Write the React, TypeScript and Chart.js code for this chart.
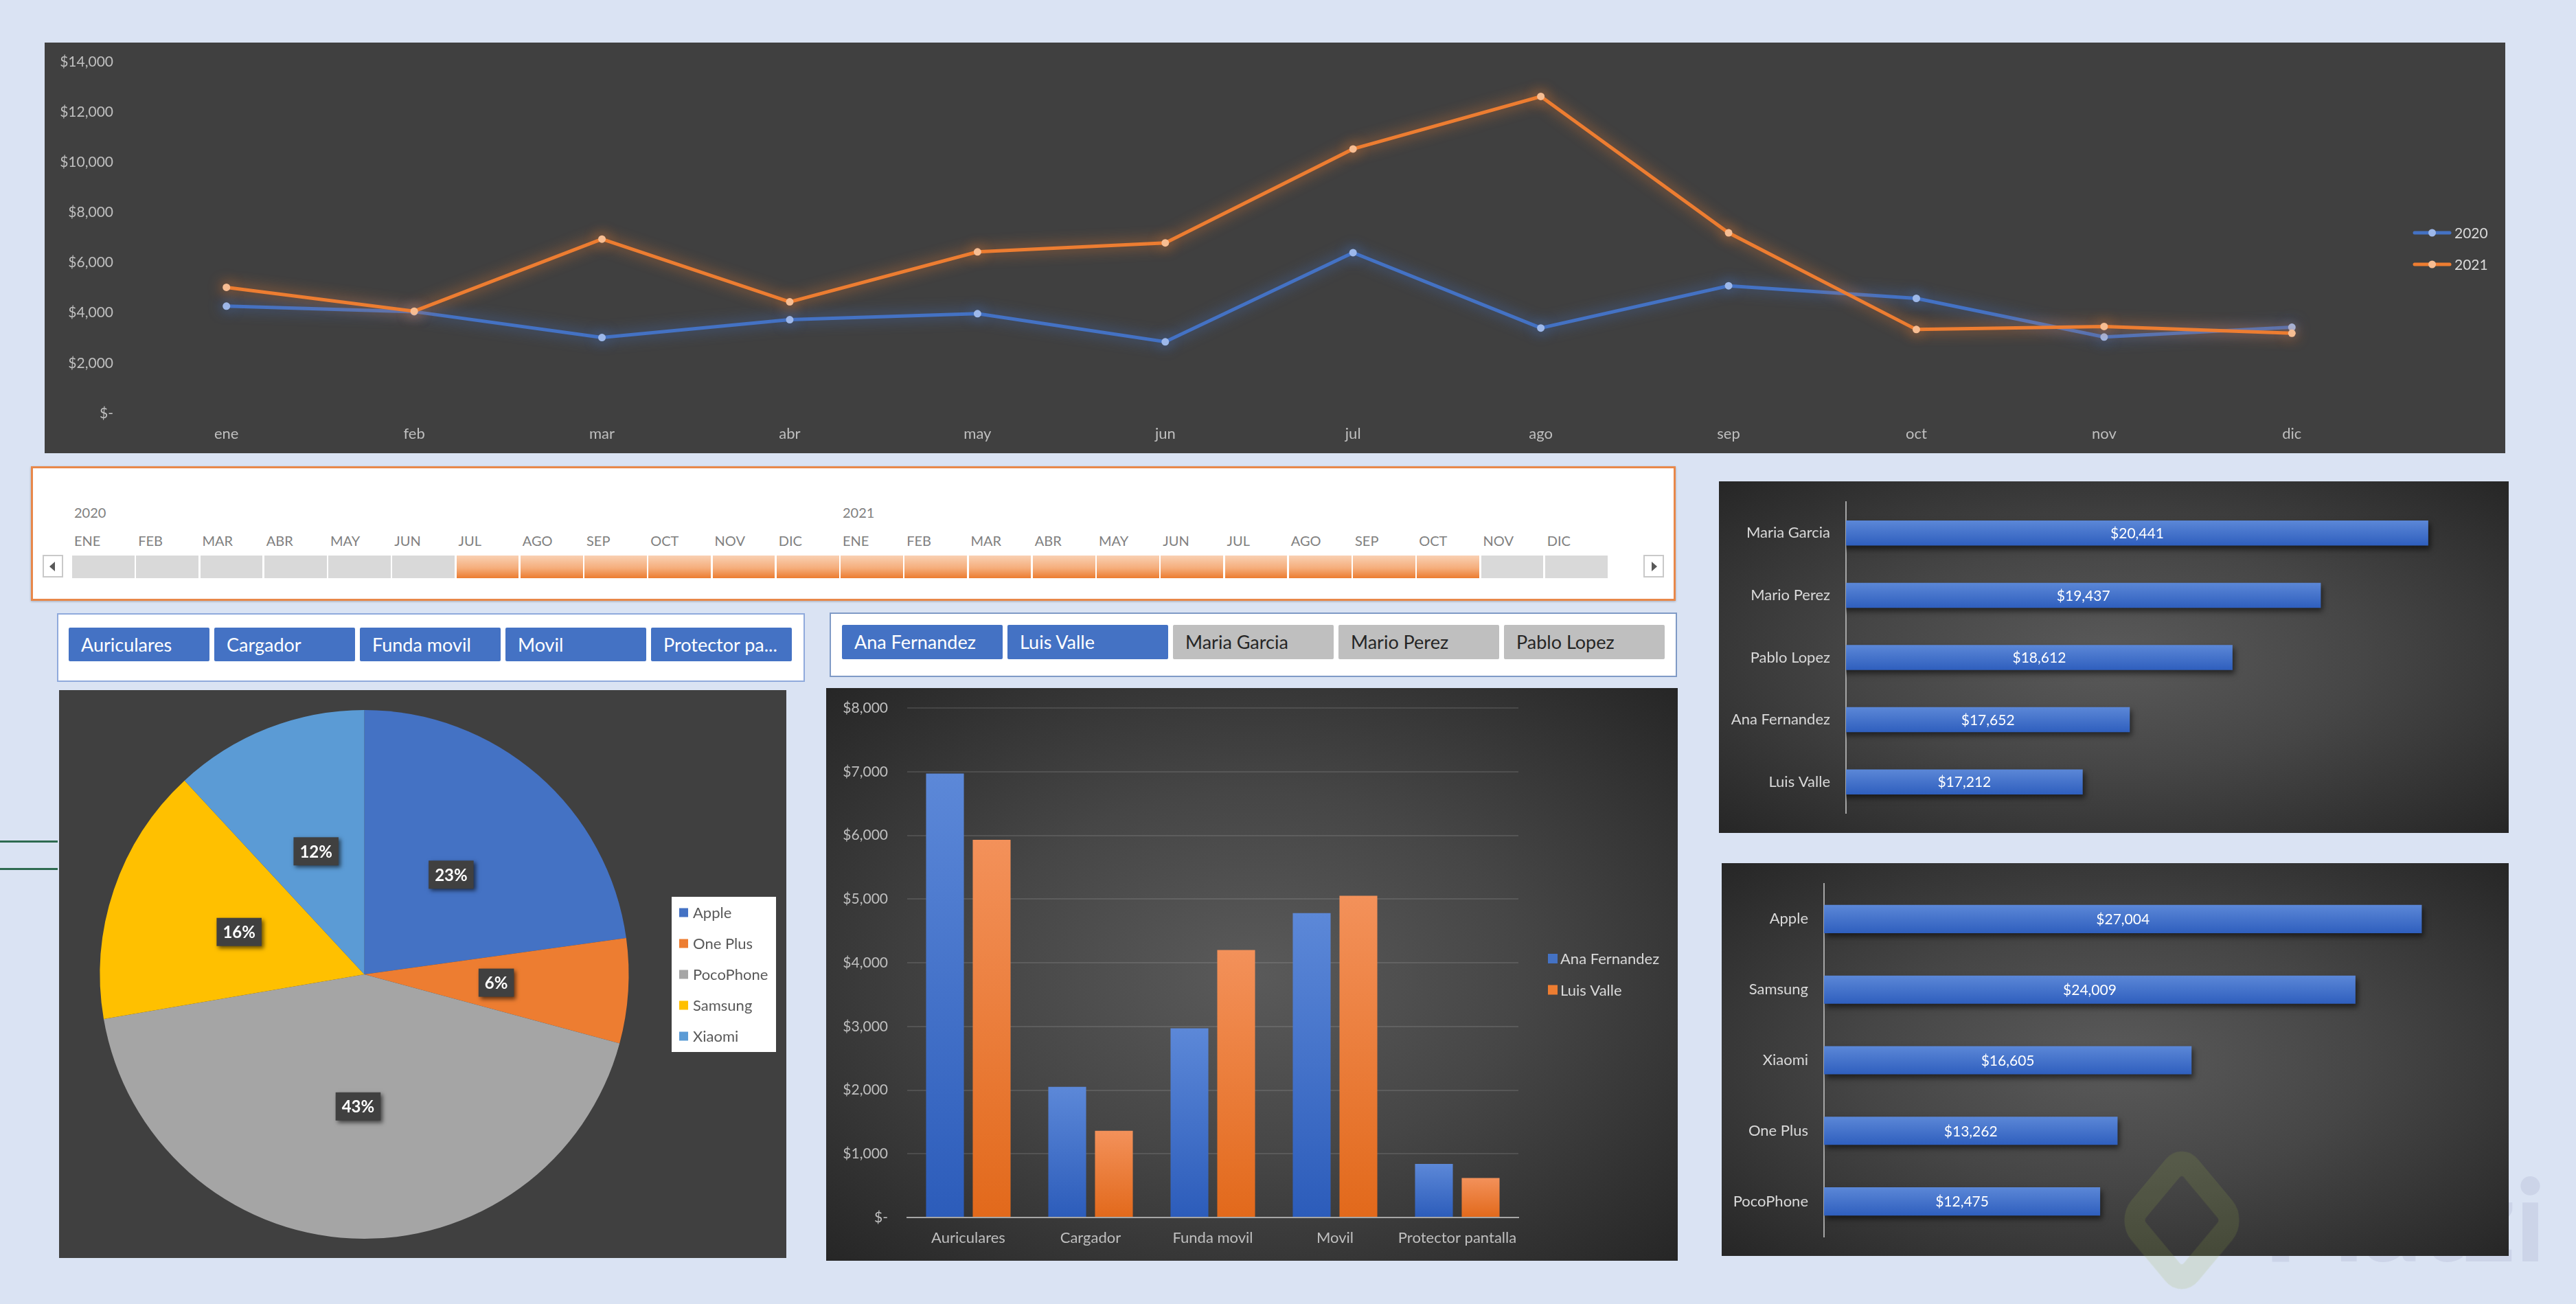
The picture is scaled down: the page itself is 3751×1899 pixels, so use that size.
import React, { useEffect, useRef } from 'react';
import { Chart, registerables } from 'chart.js';

Chart.register(...registerables);

const FONT = 'Lato, "Open Sans", sans-serif';

// ---------------- data ----------------
const months = ['ene', 'feb', 'mar', 'abr', 'may', 'jun', 'jul', 'ago', 'sep', 'oct', 'nov', 'dic'];
const sales2020 = [4270, 4050, 3020, 3730, 3970, 2850, 6400, 3400, 5080, 4580, 3040, 3430];
const sales2021 = [5020, 4070, 6940, 4440, 6430, 6790, 10530, 12620, 7190, 3340, 3460, 3190];
const lineYMax = 14000;
const lineYStep = 2000;

const products = ['Auriculares', 'Cargador', 'Funda movil', 'Movil', 'Protector pantalla'];
const anaFernandezSales = [6970, 2050, 2970, 4780, 840];
const luisValleSales = [5930, 1360, 4200, 5050, 620];
const barYMax = 8000;
const barYStep = 1000;

const brands = ['Apple', 'One Plus', 'PocoPhone', 'Samsung', 'Xiaomi'];
const brandShare = [22.8, 6.4, 43.1, 15.8, 11.9];

const sellerRanking = ['Maria Garcia', 'Mario Perez', 'Pablo Lopez', 'Ana Fernandez', 'Luis Valle'];
const sellerTotals = [20441, 19437, 18612, 17652, 17212];
const sellerAxisMin = 15000;
const sellerAxisMax = 21000;

const brandRanking = ['Apple', 'Samsung', 'Xiaomi', 'One Plus', 'PocoPhone'];
const brandTotals = [27004, 24009, 16605, 13262, 12475];
const brandAxisMax = 30000;

const timelineYears = ['2020', '2021'];
const timelineMonths = ['ENE', 'FEB', 'MAR', 'ABR', 'MAY', 'JUN', 'JUL', 'AGO', 'SEP', 'OCT', 'NOV', 'DIC'];
const timelineSelStart = 6; // JUL 2020
const timelineSelEnd = 21; // OCT 2021

const sellers = ['Ana Fernandez', 'Luis Valle', 'Maria Garcia', 'Mario Perez', 'Pablo Lopez'];
const selectedSellers = ['Ana Fernandez', 'Luis Valle'];

// ---------------- styles ----------------
const BLUE = '#4472C4';
const ORANGE = '#ED7D31';
const PIE_COLORS = ['#4472C4', '#ED7D31', '#A5A5A5', '#FFC000', '#5B9BD5'];
const DARK_RADIAL = 'radial-gradient(ellipse at 50% 50%, #5a5a5a 0%, #464646 45%, #262626 100%)';

const money = (v: number) => (v === 0 ? '$-' : '$' + Math.round(v).toLocaleString('en-US'));

const noVPad = (s: any) => {
  s.paddingTop = 0;
  s.paddingBottom = 0;
};

// ---------------- plugins ----------------
const glowPlugin: any = {
  id: 'glow',
  beforeDatasetDraw(chart: any, args: any, opts: any) {
    const c = opts.colors && opts.colors[args.index];
    if (!c) return;
    chart.ctx.save();
    chart.ctx.shadowColor = c;
    chart.ctx.shadowBlur = opts.blur || 16;
  },
  afterDatasetDraw(chart: any, args: any, opts: any) {
    if (opts.colors && opts.colors[args.index]) chart.ctx.restore();
  },
};

const sideLegendPlugin: any = {
  id: 'sideLegend',
  afterDraw(chart: any, _a: any, o: any) {
    const ctx = chart.ctx;
    const texts: string[] =
      o.source === 'labels' ? chart.data.labels : chart.data.datasets.map((d: any) => d.label);
    ctx.save();
    if (o.box) {
      ctx.fillStyle = o.box.fill;
      ctx.fillRect(o.box.x, o.box.y, o.box.w, o.box.h);
    }
    ctx.font = `${o.fontSize}px ${FONT}`;
    ctx.textBaseline = 'middle';
    ctx.textAlign = 'left';
    texts.forEach((t, i) => {
      const cy = o.y + i * o.spacing;
      const color = o.colors[i];
      if (o.marker === 'line') {
        ctx.strokeStyle = color;
        ctx.lineWidth = 5;
        ctx.lineCap = 'round';
        ctx.beginPath();
        ctx.moveTo(o.markerX + 2, cy);
        ctx.lineTo(o.markerX + o.markerW - 2, cy);
        ctx.stroke();
        ctx.fillStyle = o.pointColors[i];
        ctx.beginPath();
        ctx.arc(o.markerX + o.markerW / 2, cy, 5.5, 0, Math.PI * 2);
        ctx.fill();
      } else {
        ctx.fillStyle = color;
        ctx.fillRect(o.markerX, cy - o.markerW / 2, o.markerW, o.markerW);
      }
      ctx.fillStyle = o.textColor;
      ctx.fillText(t, o.textX, cy + 1);
    });
    ctx.restore();
  },
};

const barShadowPlugin: any = {
  id: 'barShadow',
  beforeDatasetsDraw(chart: any) {
    const ctx = chart.ctx;
    ctx.save();
    ctx.shadowColor = 'rgba(0,0,0,0.55)';
    ctx.shadowBlur = 8;
    ctx.shadowOffsetX = 3;
    ctx.shadowOffsetY = 5;
  },
  afterDatasetsDraw(chart: any) {
    chart.ctx.restore();
  },
};

const barValuePlugin: any = {
  id: 'barValues',
  afterDatasetsDraw(chart: any, _a: any, o: any) {
    const ctx = chart.ctx;
    const meta = chart.getDatasetMeta(0);
    const data = chart.data.datasets[0].data;
    const left = chart.chartArea.left;
    ctx.save();
    ctx.font = `${o.fontSize || 21}px ${FONT}`;
    ctx.fillStyle = '#FFFFFF';
    ctx.textAlign = 'center';
    ctx.textBaseline = 'middle';
    meta.data.forEach((bar: any, i: number) => {
      const p = bar.getProps(['x', 'y', 'base'], true);
      const start = Math.max(p.base, left);
      ctx.fillText(money(data[i]), (p.x + start) / 2, p.y + 1);
    });
    ctx.restore();
  },
};

const pieLabelPlugin: any = {
  id: 'pieLabels',
  afterDatasetsDraw(chart: any) {
    const ctx = chart.ctx;
    const meta = chart.getDatasetMeta(0);
    const data: number[] = chart.data.datasets[0].data;
    const total = data.reduce((a, b) => a + b, 0);
    ctx.save();
    ctx.font = `bold 24px ${FONT}`;
    ctx.textAlign = 'center';
    ctx.textBaseline = 'middle';
    meta.data.forEach((arc: any, i: number) => {
      const pos = arc.tooltipPosition(true);
      const t = Math.round((data[i] / total) * 100) + '%';
      const w = ctx.measureText(t).width + 18;
      const h = 41;
      ctx.shadowColor = 'rgba(0,0,0,0.6)';
      ctx.shadowBlur = 6;
      ctx.shadowOffsetX = 3;
      ctx.shadowOffsetY = 3;
      ctx.fillStyle = '#404040';
      ctx.fillRect(pos.x - w / 2, pos.y - h / 2, w, h);
      ctx.shadowColor = 'transparent';
      ctx.shadowBlur = 0;
      ctx.shadowOffsetX = 0;
      ctx.shadowOffsetY = 0;
      ctx.fillStyle = '#FFFFFF';
      ctx.fillText(t, pos.x, pos.y + 1);
    });
    ctx.restore();
  },
};

const vbarFill = (light: string, dark: string) => (c: any) => {
  const y = c.chart.scales && c.chart.scales.y;
  if (c.type !== 'data' || !y || typeof c.raw !== 'number') return dark;
  const top = y.getPixelForValue(c.raw);
  const bottom = y.getPixelForValue(0);
  if (!isFinite(top) || !isFinite(bottom) || top === bottom) return dark;
  const g = c.chart.ctx.createLinearGradient(0, top, 0, bottom);
  g.addColorStop(0, light);
  g.addColorStop(1, dark);
  return g;
};

const hbarFill = (light: string, dark: string, half: number) => (c: any) => {
  const y = c.chart.scales && c.chart.scales.y;
  if (c.type !== 'data' || !y) return dark;
  const cy = y.getPixelForValue(c.dataIndex);
  if (!isFinite(cy)) return dark;
  const g = c.chart.ctx.createLinearGradient(0, cy - half, 0, cy + half);
  g.addColorStop(0, light);
  g.addColorStop(1, dark);
  return g;
};

// ---------------- configs ----------------
function lineConfig(): any {
  return {
    type: 'line',
    data: {
      labels: months,
      datasets: [
        {
          label: '2020',
          data: sales2020,
          borderColor: BLUE,
          backgroundColor: BLUE,
          borderWidth: 5,
          pointRadius: 5.5,
          pointHoverRadius: 5.5,
          pointBorderWidth: 0,
          pointBackgroundColor: '#9DB8EA',
          tension: 0,
          order: 2,
        },
        {
          label: '2021',
          data: sales2021,
          borderColor: ORANGE,
          backgroundColor: ORANGE,
          borderWidth: 5,
          pointRadius: 5.5,
          pointHoverRadius: 5.5,
          pointBorderWidth: 0,
          pointBackgroundColor: '#F7BD92',
          tension: 0,
          order: 1,
        },
      ],
    },
    options: {
      responsive: false,
      animation: false,
      devicePixelRatio: 1,
      layout: { padding: { left: 0, right: 174, top: 28, bottom: 0 } },
      scales: {
        x: {
          offset: true,
          grid: { display: false, drawTicks: false },
          border: { display: false },
          ticks: { color: '#BFBFBF', font: { family: FONT, size: 22 }, padding: 17, maxRotation: 0, autoSkip: false },
          afterFit: (s: any) => {
            s.height = 58;
          },
        },
        y: {
          min: 0,
          max: lineYMax,
          grid: { display: false, drawTicks: false },
          border: { display: false },
          ticks: {
            stepSize: lineYStep,
            color: '#BFBFBF',
            font: { family: FONT, size: 21 },
            padding: 28,
            callback: (v: any) => money(Number(v)),
          },
          afterFit: (s: any) => {
            s.width = 128;
            noVPad(s);
          },
        },
      },
      plugins: {
        legend: { display: false },
        tooltip: { enabled: false },
        glow: { colors: ['rgba(68,114,196,0.95)', 'rgba(237,125,49,0.95)'], blur: 20 },
        sideLegend: {
          source: 'datasets',
          marker: 'line',
          markerX: 3449,
          markerW: 55,
          textX: 3509,
          y: 277,
          spacing: 46,
          fontSize: 21,
          textColor: '#D9D9D9',
          colors: [BLUE, ORANGE],
          pointColors: ['#9DB8EA', '#F7BD92'],
        },
      },
    },
    plugins: [glowPlugin, sideLegendPlugin],
  };
}

function pieConfig(): any {
  return {
    type: 'pie',
    data: {
      labels: brands,
      datasets: [{ data: brandShare, backgroundColor: PIE_COLORS, borderWidth: 0, hoverOffset: 0 }],
    },
    options: {
      responsive: false,
      animation: false,
      devicePixelRatio: 1,
      layout: { padding: { left: 59.5, right: 229.5, top: 29, bottom: 28 } },
      plugins: {
        legend: { display: false },
        tooltip: { enabled: false },
        sideLegend: {
          source: 'labels',
          marker: 'square',
          markerX: 903,
          markerW: 13,
          textX: 923,
          y: 324,
          spacing: 45,
          fontSize: 22,
          textColor: '#595959',
          colors: PIE_COLORS,
          box: { x: 892, y: 301, w: 152, h: 226, fill: '#FFFFFF' },
        },
      },
    },
    plugins: [pieLabelPlugin, sideLegendPlugin],
  };
}

function sellerProductConfig(): any {
  return {
    type: 'bar',
    data: {
      labels: products,
      datasets: [
        {
          label: 'Ana Fernandez',
          data: anaFernandezSales,
          backgroundColor: vbarFill('#5C88D8', '#2C5CBA'),
          categoryPercentage: 0.764,
          barPercentage: 0.81,
        },
        {
          label: 'Luis Valle',
          data: luisValleSales,
          backgroundColor: vbarFill('#F3915A', '#E2691B'),
          categoryPercentage: 0.764,
          barPercentage: 0.81,
        },
      ],
    },
    options: {
      responsive: false,
      animation: false,
      devicePixelRatio: 1,
      layout: { padding: { left: 0, right: 232, top: 29, bottom: 0 } },
      scales: {
        x: {
          grid: { display: false, drawTicks: false },
          border: { display: true, color: '#A6A6A6', width: 2 },
          ticks: { color: '#BFBFBF', font: { family: FONT, size: 22 }, padding: 17, maxRotation: 0, autoSkip: false },
          afterFit: (s: any) => {
            s.height = 63;
          },
        },
        y: {
          min: 0,
          max: barYMax,
          grid: { color: 'rgba(255,255,255,0.11)', lineWidth: 2, drawTicks: false },
          border: { display: false },
          ticks: {
            stepSize: barYStep,
            color: '#BFBFBF',
            font: { family: FONT, size: 21 },
            padding: 28,
            callback: (v: any) => money(Number(v)),
          },
          afterFit: (s: any) => {
            s.width = 118;
            noVPad(s);
          },
        },
      },
      plugins: {
        legend: { display: false },
        tooltip: { enabled: false },
        sideLegend: {
          source: 'datasets',
          marker: 'square',
          markerX: 1051,
          markerW: 14,
          textX: 1069,
          y: 394,
          spacing: 45.5,
          fontSize: 22,
          textColor: '#D9D9D9',
          colors: ['#4472C4', '#ED7D31'],
        },
      },
    },
    plugins: [sideLegendPlugin],
  };
}

function hbarConfig(labels: string[], values: number[], min: number, max: number, axisWidth: number, pad: any, half: number, pct: number): any {
  return {
    type: 'bar',
    data: {
      labels,
      datasets: [
        {
          data: values,
          backgroundColor: hbarFill('#5B87D7', '#2F5FBE', half),
          categoryPercentage: 1,
          barPercentage: pct,
        },
      ],
    },
    options: {
      indexAxis: 'y',
      responsive: false,
      animation: false,
      devicePixelRatio: 1,
      layout: { padding: pad },
      scales: {
        x: { display: false, min, max },
        y: {
          grid: { display: false, drawTicks: false },
          border: { display: true, color: '#A6A6A6', width: 2 },
          ticks: { color: '#D9D9D9', font: { family: FONT, size: 22 }, padding: 23, autoSkip: false },
          afterFit: (s: any) => {
            s.width = axisWidth;
            noVPad(s);
          },
        },
      },
      plugins: {
        legend: { display: false },
        tooltip: { enabled: false },
        barValues: { fontSize: 21 },
      },
    },
    plugins: [barShadowPlugin, barValuePlugin],
  };
}

// ---------------- components ----------------
function ChartPanel(props: { left: number; top: number; width: number; height: number; background: string; make: () => any }) {
  const ref = useRef<HTMLCanvasElement>(null);
  useEffect(() => {
    const chart = new Chart(ref.current as HTMLCanvasElement, props.make());
    return () => chart.destroy();
  }, []);
  const { left, top, width, height, background } = props;
  return (
    <div style={{ position: 'absolute', left, top, width, height, background }}>
      <canvas ref={ref} width={width} height={height} style={{ display: 'block', width, height }} />
    </div>
  );
}

function TimelineSlicer() {
  const x0 = 105;
  const cw = 93.25;
  const all: { label: string; idx: number }[] = [];
  timelineYears.forEach((_, yi) => timelineMonths.forEach((m, mi) => all.push({ label: m, idx: yi * 12 + mi })));
  return (
    <>
      <div
        style={{
          position: 'absolute',
          left: 45,
          top: 679,
          width: 2395,
          height: 196,
          boxSizing: 'border-box',
          border: '3px solid #E8884A',
          background: '#FFFFFF',
          boxShadow: '0 1px 3px rgba(0,0,0,0.25)',
        }}
      />
      {timelineYears.map((y, yi) => (
        <div
          key={y}
          style={{ position: 'absolute', left: x0 + yi * 12 * cw + 3, top: 733, font: `20px ${FONT}`, lineHeight: '26px', color: '#808080' }}
        >
          {y}
        </div>
      ))}
      {all.map((c) => {
        const sel = c.idx >= timelineSelStart && c.idx <= timelineSelEnd;
        return (
          <React.Fragment key={c.idx}>
            <div
              style={{ position: 'absolute', left: x0 + c.idx * cw + 3, top: 775, font: `20px ${FONT}`, lineHeight: '24px', color: '#808080' }}
            >
              {c.label}
            </div>
            <div
              style={{
                position: 'absolute',
                left: x0 + c.idx * cw,
                top: 809,
                width: cw - 2.5,
                height: 33,
                background: sel ? 'linear-gradient(#F9D0B3 0%, #F5AE7C 55%, #EC7C30 100%)' : '#D9D9D9',
              }}
            />
          </React.Fragment>
        );
      })}
      <div style={{ position: 'absolute', left: 62, top: 808, width: 30, height: 33, boxSizing: 'border-box', border: '2px solid #C9C9C9', background: '#fff' }}>
        <div
          style={{
            position: 'absolute',
            left: 8,
            top: 8,
            width: 0,
            height: 0,
            borderTop: '7px solid transparent',
            borderBottom: '7px solid transparent',
            borderRight: '8px solid #595959',
          }}
        />
      </div>
      <div style={{ position: 'absolute', left: 2393, top: 808, width: 30, height: 33, boxSizing: 'border-box', border: '2px solid #C9C9C9', background: '#fff' }}>
        <div
          style={{
            position: 'absolute',
            left: 10,
            top: 8,
            width: 0,
            height: 0,
            borderTop: '7px solid transparent',
            borderBottom: '7px solid transparent',
            borderLeft: '8px solid #595959',
          }}
        />
      </div>
    </>
  );
}

function ButtonSlicer(props: {
  box: { left: number; top: number; width: number; height: number; border: string };
  items: string[];
  selected: (s: string) => boolean;
  maxChars: number;
  x0: number;
  top: number;
  w: number;
  h: number;
  step: number;
}) {
  const { box, items, selected, maxChars, x0, top, w, h, step } = props;
  return (
    <>
      <div
        style={{
          position: 'absolute',
          left: box.left,
          top: box.top,
          width: box.width,
          height: box.height,
          boxSizing: 'border-box',
          border: box.border,
          background: '#FFFFFF',
        }}
      />
      {items.map((it, i) => {
        const sel = selected(it);
        const label = it.length > maxChars ? it.slice(0, maxChars) + '...' : it;
        return (
          <div
            key={it}
            style={{
              position: 'absolute',
              left: x0 + i * step,
              top,
              width: w,
              height: h,
              boxSizing: 'border-box',
              paddingLeft: 18,
              background: sel ? '#4472C4' : '#BFBFBF',
              color: sel ? '#FFFFFF' : '#262626',
              font: `27px ${FONT}`,
              lineHeight: `${h}px`,
              whiteSpace: 'nowrap',
              overflow: 'hidden',
              borderRadius: 2,
            }}
          >
            {label}
          </div>
        );
      })}
    </>
  );
}

export default function App() {
  return (
    <div
      style={{
        position: 'absolute',
        left: 0,
        top: 0,
        width: 3751,
        height: 1899,
        overflow: 'hidden',
        background: '#DAE3F3',
        fontFamily: FONT,
      }}
    >
      {/* faint watermark text behind the panels */}
      <div
        style={{
          position: 'absolute',
          left: 3296,
          top: 1691,
          font: `900 165px ${FONT}`,
          lineHeight: '165px',
          color: '#CCD4E8',
          whiteSpace: 'nowrap',
        }}
      >
        Platzi
      </div>

      <ChartPanel left={65} top={62} width={3583} height={598} background="#404040" make={lineConfig} />

      <TimelineSlicer />

      <ButtonSlicer
        box={{ left: 83, top: 893, width: 1089, height: 100, border: '2px solid #8FAADC' }}
        items={products}
        selected={() => true}
        maxChars={12}
        x0={100}
        top={914}
        w={205}
        h={49}
        step={212}
      />
      <ButtonSlicer
        box={{ left: 1208, top: 892, width: 1234, height: 94, border: '2px solid #7F9AC6' }}
        items={sellers}
        selected={(s) => selectedSellers.includes(s)}
        maxChars={20}
        x0={1226}
        top={910}
        w={234}
        h={50}
        step={241}
      />

      <div style={{ position: 'absolute', left: 0, top: 1224, width: 84, height: 3, background: '#2E6B50' }} />
      <div style={{ position: 'absolute', left: 0, top: 1264, width: 84, height: 3, background: '#2E6B50' }} />

      <ChartPanel left={86} top={1005} width={1059} height={827} background="#404040" make={pieConfig} />
      <ChartPanel left={1203} top={1002} width={1240} height={834} background={DARK_RADIAL} make={sellerProductConfig} />
      <ChartPanel
        left={2503}
        top={701}
        width={1150}
        height={512}
        background={DARK_RADIAL}
        make={() => hbarConfig(sellerRanking, sellerTotals, sellerAxisMin, sellerAxisMax, 185, { left: 0, right: 30, top: 30, bottom: 29 }, 18, 0.403)}
      />
      <ChartPanel
        left={2507}
        top={1257}
        width={1146}
        height={572}
        background={DARK_RADIAL}
        make={() => hbarConfig(brandRanking, brandTotals, 0, brandAxisMax, 149, { left: 0, right: 30, top: 30, bottom: 28 }, 20.5, 0.4)}
      />

      {/* faint watermark logo on top */}
      <div
        style={{
          position: 'absolute',
          left: 3108,
          top: 1708,
          width: 138,
          height: 138,
          boxSizing: 'border-box',
          border: '30px solid rgba(150,175,70,0.16)',
          borderRadius: 34,
          transform: 'scaleY(1.2) rotate(45deg)',
          pointerEvents: 'none',
        }}
      />
    </div>
  );
}
